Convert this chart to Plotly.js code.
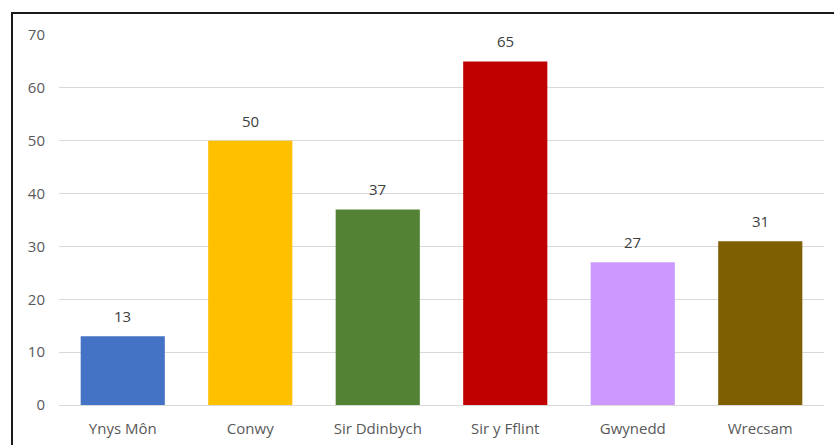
<!DOCTYPE html>
<html>
<head>
<meta charset="utf-8">
<script src="https://cdn.plot.ly/plotly-3.0.1.min.js"></script>
<style>
html,body{margin:0;padding:0;background:#fff;}
#wrap{position:relative;width:834px;height:445px;overflow:hidden;}
#frame{position:absolute;left:11px;top:12px;width:900px;height:500px;border-top:2px solid #1a1a1a;border-left:2px solid #1a1a1a;pointer-events:none;}
#chart{position:absolute;left:0;top:0;width:834px;height:445px;}
</style>
</head>
<body>
<div id="wrap">
<div id="chart"></div>
<div id="frame"></div>
</div>
<script>
var categories = ["Ynys Môn", "Conwy", "Sir Ddinbych", "Sir y Fflint", "Gwynedd", "Wrecsam"];
var values = [13, 50, 37, 65, 27, 31];
var colors = ["#4472C4", "#FFC000", "#548235", "#C00000", "#CC99FF", "#7F6000"];
var yTicks = [0, 10, 20, 30, 40, 50, 60, 70];

var trace = {
  type: "bar",
  x: categories,
  y: values,
  marker: {color: colors},
  hoverinfo: "x+y"
};

var annotations = categories.map(function(c, i){
  return {
    x: c, y: values[i], xref: "x", yref: "y",
    text: String(values[i]), showarrow: false,
    yanchor: "bottom", yshift: 8,
    font: {family: "Open Sans, Liberation Sans, sans-serif", size: 15, color: "#404040"}
  };
});

var layout = {
  width: 834, height: 445,
  margin: {l: 59, r: 10, t: 35, b: 40},
  paper_bgcolor: "rgba(0,0,0,0)",
  plot_bgcolor: "#fff",
  bargap: 0.34,
  showlegend: false,
  font: {family: "Open Sans, Liberation Sans, sans-serif", size: 15, color: "#595959"},
  xaxis: {
    type: "category",
    showgrid: false,
    showline: true, linecolor: "#d9d9d9", linewidth: 1,
    ticks: "",
    tickfont: {size: 15, color: "#595959"},
    ticklabelstandoff: 10
  },
  yaxis: {
    range: [0, 70],
    tickvals: yTicks,
    ticktext: yTicks.map(String),
    showgrid: true, gridcolor: "#d9d9d9", gridwidth: 1,
    zeroline: false, showline: false,
    ticks: "",
    tickfont: {size: 15, color: "#595959"},
    ticklabelstandoff: 13
  },
  annotations: annotations
};

Plotly.newPlot("chart", [trace], layout, {displayModeBar: false, staticPlot: true});
</script>
</body>
</html>
